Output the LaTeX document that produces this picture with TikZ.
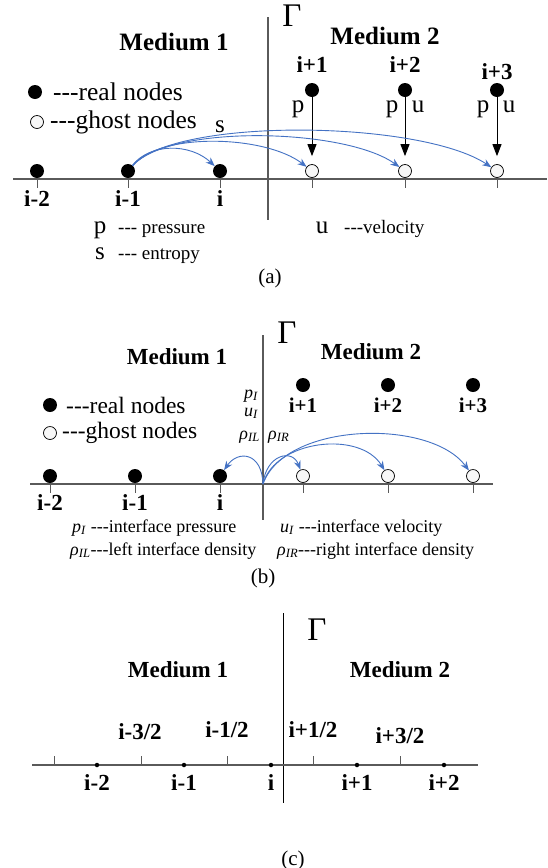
\documentclass[tikz,border=0pt]{standalone}
\usepackage{fontspec}
\setmainfont{Liberation Serif}
\usetikzlibrary{arrows.meta}
\definecolor{arrblue}{HTML}{4472C4}
\definecolor{axgray}{HTML}{5A5A5A}
\newcommand\dd{\mbox{-}\mbox{-}\mbox{-}}
\begin{document}
\begin{tikzpicture}[x=1pt,y=-1pt,inner sep=0pt,
  real/.style={circle,fill=black,inner sep=0pt,minimum size=14pt},
  ghost/.style={circle,draw=black,fill=white!94!gray,inner sep=0pt,minimum size=13pt,line width=0.7pt},
  smalldot/.style={circle,fill=black,inner sep=0pt,minimum size=4.5pt},
  ax/.style={draw=axgray,line width=1.1pt},
  tk/.style={draw=axgray,line width=1pt},
  bl/.style={font=\fontsize{23}{27}\selectfont\bfseries},
  blb/.style={font=\fontsize{21}{25}\selectfont\bfseries},
  med/.style={font=\fontsize{25}{30}\selectfont\bfseries},
  medb/.style={font=\fontsize{23}{28}\selectfont\bfseries},
  gam/.style={font=\fontsize{33}{38}\selectfont},
  leg/.style={font=\fontsize{25.5}{30}\selectfont},
  legb/.style={font=\fontsize{23.5}{28}\selectfont},
  sm/.style={font=\fontsize{19}{23}\selectfont},
  smb/.style={font=\fontsize{18}{22}\selectfont},
  vtxt/.style={font=\fontsize{25}{30}\selectfont},
  itx/.style={font=\fontsize{18}{22}\selectfont\itshape},
  captxt/.style={font=\fontsize{21}{25}\selectfont},
  blarr/.style={draw=arrblue,line width=0.9pt,-{Stealth[length=9pt,width=7pt]}},
  karr/.style={draw=black,line width=0.9pt,-{Triangle[length=12pt,width=9pt]}}]
\path[use as bounding box,fill=white] (0,0) rectangle (547,868);

% ---------------- Panel (a)
\draw[ax] (268,17) -- (268,220);
\node[gam] (ga) at (292,16) {Γ};
\node[med] (m1a) at (174,42) {Medium 1};
\node[med] (m2a) at (385,36) {Medium 2};
\draw[ax] (13,179) -- (547,179);
\foreach \x in {37,128,220,312,405,497} \draw[tk] (\x,179) -- (\x,188);
\node[real] (am2) at (37,171) {};
\node[real] (am1) at (128,171) {};
\node[real] (ai) at (220,171) {};
\node[ghost] (ag1) at (312,171) {};
\node[ghost] (ag2) at (405,171) {};
\node[ghost] (ag3) at (497,171) {};
\node[real] (au1) at (312,90) {};
\node[real] (au2) at (405,90) {};
\node[real] (au3) at (497,90) {};
\node[bl] (lau1) at (312,65) {i+1};
\node[bl] (lau2) at (405,65) {i+2};
\node[bl] (lau3) at (497,72) {i+3};
\node[bl] (lam2) at (37,199) {i-2};
\node[bl] (lam1) at (128,199) {i-1};
\node[bl] (lai) at (220,199) {i};
\draw[karr,shorten >=8pt] (au1) -- (ag1);
\draw[karr,shorten >=8pt] (au2) -- (ag2);
\draw[karr,shorten >=8pt] (au3) -- (ag3);
\node[vtxt] (pa1) at (298,109) {p};
\node[vtxt] (pa2) at (392,109) {p};
\node[vtxt] (ua2) at (418,107) {u};
\node[vtxt] (pa3) at (483,109) {p};
\node[vtxt] (ua3) at (509,107) {u};
\node[vtxt] (sa) at (220,127) {s};
\node[real] (lega1) at (35,92) {};
\node[leg,anchor=west] (legt1) at (53,92) {\dd real nodes};
\node[ghost] (lega2) at (37,122) {};
\node[leg,anchor=west] (legt2) at (50,122) {\dd ghost nodes};
\draw[blarr] (am1) .. controls (150,143) and (190,143) .. (ai);
\draw[blarr] (am1) .. controls (160,132) and (265,135) .. (ag1);
\draw[blarr] (am1) .. controls (170,124) and (345,128) .. (ag2);
\draw[blarr] (am1) .. controls (175,117) and (420,120) .. (ag3);
\node[vtxt,anchor=base] (pp) at (100,233) {p};
\node[sm,anchor=base west] (ppt) at (118,233) {\dd{} pressure};
\node[vtxt,anchor=base] (ss) at (100,259) {s};
\node[sm,anchor=base west] (sst) at (118,259) {\dd{} entropy};
\node[vtxt,anchor=base] (uu) at (322,233) {u};
\node[sm,anchor=base west] (uut) at (344,233) {\dd velocity};
\node[captxt] (capa) at (270,278) {(a)};

% ---------------- Panel (b)
\draw[ax] (263,335) -- (263,520);
\node[gam] (gb) at (287,333) {Γ};
\node[medb] (m1b) at (177,357) {Medium 1};
\node[medb] (m2b) at (371,352) {Medium 2};
\draw[ax] (30,484) -- (493,484);
\foreach \x in {50,135,220,303,388,473} \draw[tk] (\x,484) -- (\x,493);
\node[real] (bm2) at (50,476) {};
\node[real] (bm1) at (135,476) {};
\node[real] (bi) at (220,476) {};
\node[ghost] (bg1) at (303,476) {};
\node[ghost] (bg2) at (388,476) {};
\node[ghost] (bg3) at (473,476) {};
\node[real] (bu1) at (303,385) {};
\node[real] (bu2) at (388,385) {};
\node[real] (bu3) at (473,385) {};
\node[blb] (lbu1) at (303,405) {i+1};
\node[blb] (lbu2) at (388,405) {i+2};
\node[blb] (lbu3) at (473,405) {i+3};
\node[bl] (lbm2) at (50,503) {i-2};
\node[bl] (lbm1) at (135,503) {i-1};
\node[bl] (lbi) at (220,503) {i};
\node[real] (legb1) at (50,405) {};
\node[legb,anchor=west] (legbt1) at (66,405) {\dd real nodes};
\node[ghost] (legb2) at (50,433) {};
\node[legb,anchor=west] (legbt2) at (62,433) {\dd ghost nodes};
\node[itx,anchor=base east] (pI) at (258,398) {p\textsubscript{I}};
\node[itx,anchor=base east] (uI) at (258,416) {u\textsubscript{I}};
\node[itx,anchor=base east] (rIL) at (260,439) {ρ\textsubscript{IL}};
\node[itx,anchor=base west] (rIR) at (268,439) {ρ\textsubscript{IR}};
\coordinate (G) at (263,484);
\draw[blarr] (G) .. controls (262,452) and (238,450) .. (bi);
\draw[blarr] (G) .. controls (266,455) and (292,448) .. (bg1);
\draw[blarr] (G) .. controls (275,440) and (360,430) .. (bg2);
\draw[blarr] (G) .. controls (285,422) and (430,418) .. (bg3);
\node[smb,anchor=base west] (bt1) at (72,532) {\textit{p}\textsubscript{\textit{I}} \dd interface pressure};
\node[smb,anchor=base west] (bt2) at (280,532) {\textit{u}\textsubscript{\textit{I}} \dd interface velocity};
\node[smb,anchor=base west] (bt3) at (70,555) {\textit{ρ}\textsubscript{\textit{IL}}\dd left interface density};
\node[smb,anchor=base west] (bt4) at (277,555) {\textit{ρ}\textsubscript{\textit{IR}}\dd right interface density};
\node[captxt] (capb) at (263,578) {(b)};

% ---------------- Panel (c)
\draw[draw=black,line width=1pt] (283,613) -- (283,803);
\node[gam] (gc) at (317,630) {Γ};
\node[medb] (m1c) at (178,670) {Medium 1};
\node[medb] (m2c) at (400,670) {Medium 2};
\draw[ax] (32,765) -- (478,765);
\foreach \x in {54,141,227,313,400} \draw[tk] (\x,765) -- (\x,756);
\node[smalldot] (cm2) at (97,765) {};
\node[smalldot] (cm1) at (184,765) {};
\node[smalldot] (ci) at (271,765) {};
\node[smalldot] (cp1) at (357,765) {};
\node[smalldot] (cp2) at (444,765) {};
\node[bl] (lcm2) at (97,783) {i-2};
\node[bl] (lcm1) at (184,783) {i-1};
\node[bl] (lci) at (271,783) {i};
\node[bl] (lcp1) at (357,783) {i+1};
\node[bl] (lcp2) at (444,783) {i+2};
\node[bl] (h1) at (140,732) {i-3/2};
\node[bl] (h2) at (227,730) {i-1/2};
\node[bl] (h3) at (313,730) {i+1/2};
\node[bl] (h4) at (400,736) {i+3/2};
\node[captxt] (capc) at (293,860) {(c)};
\end{tikzpicture}
\end{document}
